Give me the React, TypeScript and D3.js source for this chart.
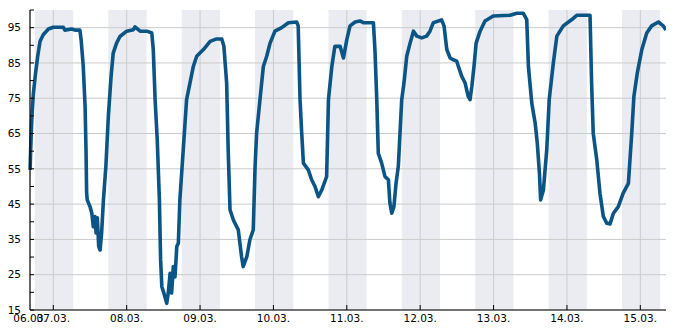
import React from "react";
import * as d3 from "d3";

// hours since 06.03. 00:00
const hours = [
  16.4, 16.6, 17.0, 17.5, 18.2, 18.9, 19.65, 20.7, 22.4, 24.0,
  27.3, 27.8, 30.0, 31.1, 32.7, 33.1, 33.8, 34.4, 34.7, 34.9,
  35.1, 36.0, 36.6, 37.1, 37.6, 38.0, 38.4, 38.85, 39.3, 39.8,
  40.4, 41.2, 42.0, 42.9, 43.6, 44.7, 45.8, 48.0, 50.2, 50.7,
  52.4, 54.6, 56.2, 56.7, 57.3, 58.0, 58.7, 59.1, 59.5, 60.2,
  61.1, 61.6, 62.2, 62.7, 63.25, 63.8, 64.4, 64.9, 65.4, 66.5,
  67.6, 68.7, 69.8, 70.9, 73.1, 75.3, 77.4, 79.1, 79.8, 80.7,
  81.2, 81.8, 82.9, 84.5, 85.6, 86.1, 87.3, 88.3, 89.4, 90.0,
  90.5, 91.6, 92.7, 93.8, 94.9, 96.5, 98.7, 100.9, 103.6, 104.1,
  104.7, 105.25, 105.8, 107.4, 108.5, 109.6, 110.7, 111.8, 113.4, 114.0,
  115.1, 116.1, 117.8, 118.9, 120.0, 121.05, 122.7, 124.3, 125.4, 128.7,
  129.2, 129.8, 130.3, 131.4, 132.5, 133.6, 134.1, 134.7, 135.4, 136.1,
  136.85, 137.4, 137.96, 138.7, 139.6, 140.7, 141.8, 142.9, 144.5, 146.1,
  147.2, 148.3, 151.0, 151.8, 152.7, 153.8, 154.8, 155.95, 156.5, 157.6,
  158.7, 159.7, 160.3, 160.9, 161.6, 162.3, 163.6, 165.2, 167.9, 173.4,
  175.6, 177.7, 178.85, 179.4, 180.5, 181.6, 182.3, 183.0, 183.4, 184.3,
  185.4, 186.2, 187.55, 188.7, 190.8, 193.6, 195.2, 199.55, 200.1, 200.6,
  201.75, 202.8, 203.9, 205.0, 206.1, 207.2, 208.8, 210.4, 212.1, 213.2,
  213.9, 215.0, 216.5, 218.1, 219.7, 221.9, 223.5, 224.4,
];

const humidity = [
  54.7, 60.4, 69.8, 76.5, 82.1, 86.9, 91.1, 93.0, 94.6, 95.1,
  95.1, 94.3, 94.6, 94.3, 94.3, 91.6, 84.0, 72.7, 60.4, 48.2,
  46.2, 44.3, 42.4, 38.6, 41.5, 36.8, 41.1, 33.0, 32.0, 36.8,
  46.2, 55.7, 69.8, 81.2, 87.8, 90.6, 92.5, 94.0, 94.4, 95.2,
  94.0, 94.0, 93.5, 88.8, 74.6, 63.2, 46.2, 29.2, 21.6, 19.7,
  16.9, 19.8, 25.4, 19.8, 27.3, 24.4, 33.0, 34.0, 46.2, 60.4,
  74.6, 79.3, 84.0, 86.9, 88.8, 91.1, 91.8, 91.8, 89.7, 79.3,
  60.4, 43.4, 40.5, 37.7, 30.0, 27.3, 30.1, 34.9, 37.7, 55.7,
  65.1, 74.6, 84.0, 86.9, 90.6, 94.0, 95.0, 96.4, 96.6, 95.5,
  74.6, 65.1, 56.6, 54.7, 51.9, 50.0, 47.1, 49.0, 52.8, 74.6,
  84.0, 89.7, 89.7, 86.4, 91.6, 95.5, 96.6, 96.9, 96.4, 96.4,
  88.8, 74.6, 59.4, 56.6, 52.8, 51.9, 45.3, 42.4, 44.3, 50.9,
  55.7, 65.1, 74.6, 79.3, 86.9, 90.6, 94.0, 92.6, 92.1, 92.6,
  94.0, 96.4, 97.2, 95.5, 88.8, 86.4, 85.9, 85.5, 84.0, 81.2,
  79.3, 75.5, 74.6, 78.4, 84.0, 90.6, 94.0, 96.9, 98.3, 98.5,
  99.1, 99.1, 97.3, 84.0, 73.6, 68.0, 62.3, 53.8, 46.2, 49.0,
  60.4, 74.6, 85.0, 92.6, 95.5, 97.3, 98.5, 98.5, 78.4, 65.1,
  57.6, 48.1, 41.5, 39.6, 39.4, 42.4, 44.3, 48.1, 50.9, 65.1,
  75.5, 82.1, 88.8, 93.5, 95.5, 96.6, 95.5, 94.3,
];

const dayLabels = ["07.03.", "08.03.", "09.03.", "10.03.", "11.03.", "12.03.", "13.03.", "14.03.", "15.03."];
const startLabel = "06.03.";
const yMajorTicks = [15, 25, 35, 45, 55, 65, 75, 85, 95];
const yMinorTicks = [20, 30, 40, 50, 60, 70, 80, 90, 100];
const nightStartHour = 18; // previous day
const nightEndHour = 6.5;

const W = 685;
const H = 330;
const left = 30;
const right = 666;
const top = 10;
const bottom = 310;

const t0 = Date.UTC(2024, 2, 6, 0, 0);
const toDate = (h: number) => new Date(t0 + h * 3600e3);
const domainStart = 16.38;
const domainEnd = 224.4;

const FONT = "'DejaVu Sans', sans-serif";

export default function App() {
  const x = d3.scaleUtc().domain([toDate(domainStart), toDate(domainEnd)]).range([left, right]);
  const y = d3.scaleLinear().domain([15, 100]).range([bottom, top]);

  const data = hours.map((h, i) => ({ t: toDate(h), v: humidity[i] }));
  const line = d3
    .line<{ t: Date; v: number }>()
    .x((d) => x(d.t))
    .y((d) => y(d.v));

  const dayTicks = dayLabels.map((lab, i) => ({ lab, t: toDate(24 * (i + 1)) }));
  const bands = dayLabels.map((_, i) => {
    const s = Math.max(x(toDate(24 * i + nightStartHour)), left);
    const e = Math.min(x(toDate(24 * (i + 1) + nightEndHour)), right);
    return { s, e };
  });

  return (
    <svg width={W} height={H} style={{ position: "absolute", left: 0, top: 0, background: "#fff" }}>
      <defs>
        <clipPath id="plot">
          <rect x={left - 2} y={top} width={right - left + 2} height={bottom - top} />
        </clipPath>
      </defs>
      {bands.map((b, i) => (
        <rect key={"b" + i} x={b.s} y={top} width={b.e - b.s} height={bottom - top} fill="#ebecf1" />
      ))}
      {yMajorTicks.map((v) => (
        <line key={"gy" + v} x1={left} x2={right} y1={y(v)} y2={y(v)} stroke="#cbcbcb" strokeWidth={1} />
      ))}
      {dayTicks.map((d) => (
        <line key={"gx" + d.lab} x1={x(d.t)} x2={x(d.t)} y1={top} y2={bottom} stroke="#cbcbcb" strokeWidth={1} />
      ))}
      <path
        d={line(data) || ""}
        fill="none"
        stroke="#0a5585"
        strokeWidth={3.6}
        strokeLinejoin="round"
        strokeLinecap="butt"
        clipPath="url(#plot)"
      />
      {/* axes */}
      <line x1={left} x2={left} y1={top} y2={bottom} stroke="#000" strokeWidth={1.2} />
      <line x1={left} x2={right} y1={bottom} y2={bottom} stroke="#000" strokeWidth={1.2} />
      {[...yMajorTicks, ...yMinorTicks].map((v) => (
        <line key={"ty" + v} x1={left} x2={left + 4} y1={y(v)} y2={y(v)} stroke="#000" strokeWidth={1} />
      ))}
      {yMajorTicks.map((v) => (
        <text
          key={"ly" + v}
          x={left - 9}
          y={y(v)}
          dy="0.36em"
          textAnchor="end"
          fontFamily={FONT}
          fontSize={10.5}
          fill="#000"
        >
          {v}
        </text>
      ))}
      {dayTicks.map((d) => (
        <line key={"tx" + d.lab} x1={x(d.t)} x2={x(d.t)} y1={bottom} y2={bottom - 5} stroke="#000" strokeWidth={1} />
      ))}
      {[{ lab: startLabel, t: toDate(domainStart) }, ...dayTicks].map((d) => (
        <text
          key={"lx" + d.lab}
          x={x(d.t)}
          y={bottom + 12}
          textAnchor="middle"
          fontFamily={FONT}
          fontSize={10.5}
          fill="#000"
        >
          {d.lab}
        </text>
      ))}
    </svg>
  );
}
